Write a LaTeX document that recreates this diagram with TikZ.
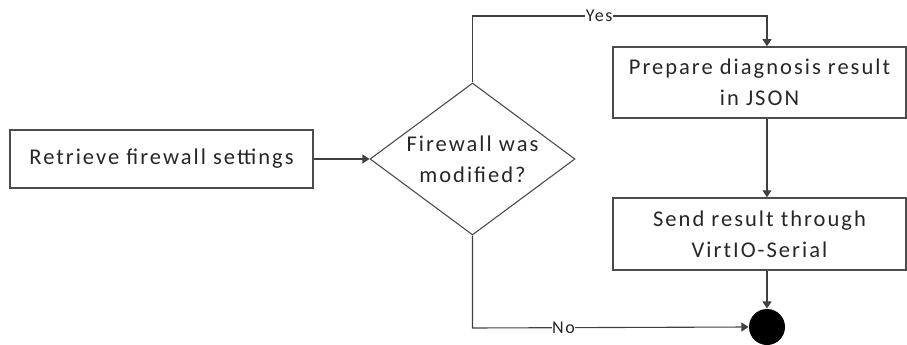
\documentclass[tikz,border=0pt]{standalone}
\usepackage{fontspec}
\setmainfont{Carlito}[LetterSpace=9]
\usetikzlibrary{arrows.meta,shapes.geometric,calc}
\begin{document}
\begin{tikzpicture}[x=1pt,y=-1pt,
  line width=1.1pt,
  every node/.style={font=\fontsize{22.5}{31}\selectfont, text=black!85},
  stepbox/.style={draw=black!70, line width=1.5pt, rectangle, align=center, inner sep=0pt},
  decision/.style={draw=black!70, line width=1.1pt, diamond, aspect=1.35, align=center, inner sep=0pt},
  flow/.style={draw=black!75, -{Triangle[width=9pt,length=7pt]}},
  lbl/.style={fill=white, inner sep=0.5pt, font=\fontsize{18}{20}\selectfont}]
\useasboundingbox (0,0) rectangle (907,345);

% process boxes
\node[stepbox, minimum width=303pt, minimum height=58pt] (retrieve) at (161.5,159) {Retrieve firewall settings};
\node[decision, minimum width=205pt, minimum height=152pt] (check) at (472.5,159) {Firewall was\\modified?};
\node[stepbox, minimum width=293pt, minimum height=71pt] (prepare) at (759.5,82.5) {Prepare diagnosis result\\in JSON};
\node[stepbox, minimum width=293pt, minimum height=72pt] (send) at (759.5,234) {Send result through\\VirtIO-Serial};
\node[circle, fill=black, minimum size=36pt, inner sep=0pt] (done) at (767,327) {};

% bend points of the branches
\coordinate (yesA) at (472.5,16);
\coordinate (yesB) at (767,16);
\coordinate (noA) at (472.5,328);

% connectors
\draw[flow] (retrieve.east) -- (check.west);
\draw[flow] (check.north) -- (yesA) -- node[lbl, pos=0.43] {Yes} (yesB) -- (yesB |- prepare.north);
\draw[flow] (prepare.south -| yesB) -- (send.north -| yesB);
\draw[flow] (send.south -| yesB) -- (done.north);
\draw[flow] (check.south) -- (noA) -- node[lbl, pos=0.33] {No} (done.west);
\end{tikzpicture}
\end{document}
